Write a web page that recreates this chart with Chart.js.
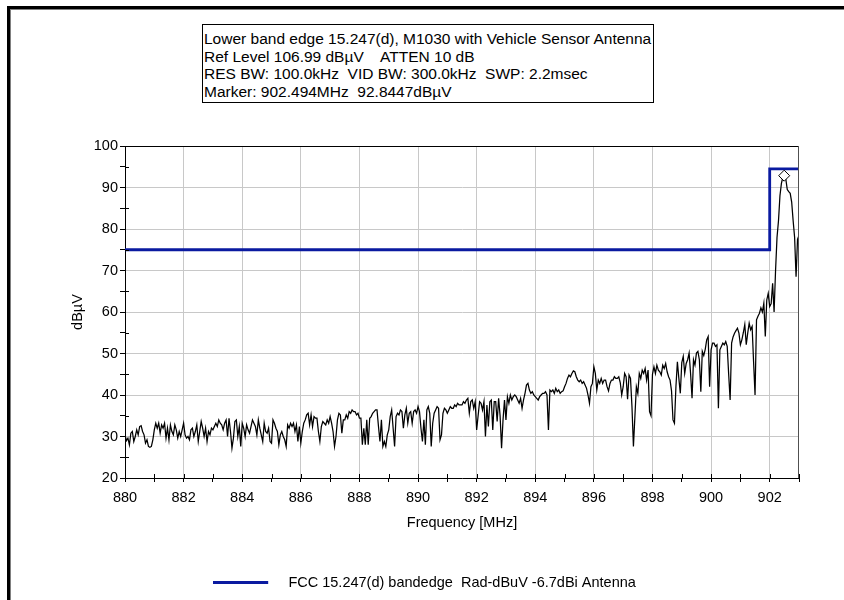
<!DOCTYPE html>
<html>
<head>
<meta charset="utf-8">
<script src="https://cdn.jsdelivr.net/npm/chart.js@4.4.1/dist/chart.umd.min.js"></script>
<style>
html,body{margin:0;padding:0;background:#fff;}
#wrap{position:relative;width:844px;height:600px;overflow:hidden;background:#fff;}
#frame{position:absolute;left:7px;top:6px;width:900px;height:700px;border-left:3px solid #000;border-top:3px solid #000;box-shadow:inset 1px 1px 0 #808080;}
#chart{position:absolute;left:0;top:0;}
#info{position:absolute;left:202px;top:24px;width:452px;height:79px;box-sizing:border-box;border:1px solid #000;background:#fff;color:#000;
  font:15.5px "Liberation Sans",Arial,sans-serif;line-height:17.5px;white-space:pre;padding:5px 0 0 1px;}
</style>
</head>
<body>
<div id="wrap">
  <div id="frame"></div>
  <canvas id="chart" width="844" height="600"></canvas>
  <div id="info">Lower band edge 15.247(d), M1030 with Vehicle Sensor Antenna
Ref Level 106.99 dBµV    ATTEN 10 dB
RES BW: 100.0kHz  VID BW: 300.0kHz  SWP: 2.2msec
Marker: 902.494MHz  92.8447dBµV</div>
</div>
<script>
// ---- data ----
const freqStartMHz = 880;
const freqStepMHz = 0.05;
const traceLevels = [
  30.4, 29.0, 29.6, 28.0, 30.8, 31.2, 28.8, 30.0, 31.6, 30.4, 32.4, 32.6, 31.2, 30.4, 28.4, 29.2, 27.6, 27.4, 27.6, 29.2,
  31.6, 33.2, 32.0, 33.2, 30.8, 32.8, 32.0, 33.2, 29.6, 32.0, 29.2, 32.8, 31.2, 30.4, 32.8, 31.6, 29.6, 31.2, 30.0, 31.6,
  33.2, 30.4, 29.6, 30.0, 29.2, 31.6, 32.0, 30.0, 31.2, 32.8, 28.8, 31.2, 33.6, 32.0, 30.0, 32.0, 28.8, 31.2, 30.4, 32.0,
  31.6, 32.4, 33.2, 32.4, 34.0, 33.2, 32.8, 31.6, 33.2, 34.0, 30.0, 34.4, 31.2, 27.2, 29.6, 33.6, 34.0, 30.0, 32.4, 27.6,
  33.2, 32.0, 30.0, 32.8, 31.6, 30.8, 32.4, 34.0, 33.2, 32.4, 30.4, 34.0, 32.0, 30.4, 28.8, 33.2, 31.2, 30.8, 32.0, 28.8,
  28.4, 34.0, 33.2, 32.0, 31.2, 28.0, 30.4, 31.2, 30.0, 29.2, 27.6, 32.8, 32.0, 33.2, 32.4, 33.2, 31.2, 32.8, 28.8, 32.4,
  28.4, 31.2, 33.2, 34.0, 35.2, 35.6, 32.8, 35.2, 32.4, 34.8, 34.4, 34.4, 31.2, 28.8, 32.4, 33.6, 33.2, 32.8, 34.0, 33.2,
  34.8, 33.2, 31.2, 27.6, 30.0, 34.0, 35.6, 35.2, 30.8, 34.0, 34.0, 35.2, 34.4, 36.0, 35.6, 36.4, 36.0, 36.0, 35.2, 35.6,
  34.4, 34.4, 28.0, 32.0, 28.0, 34.0, 28.0, 34.4, 34.8, 35.6, 36.0, 36.4, 36.4, 32.4, 28.8, 34.0, 27.6, 28.8, 27.6, 30.4,
  31.6, 34.8, 36.4, 32.0, 27.6, 34.8, 35.6, 35.2, 36.4, 36.0, 32.0, 35.2, 36.8, 33.2, 35.6, 36.0, 33.2, 36.0, 36.4, 35.6,
  37.2, 36.0, 32.0, 28.8, 34.0, 28.0, 36.4, 37.2, 35.6, 27.6, 33.2, 35.6, 36.4, 37.2, 36.8, 29.2, 30.4, 35.6, 36.8, 36.4,
  35.6, 36.4, 37.2, 36.8, 36.8, 37.6, 37.2, 38.0, 37.6, 37.6, 37.6, 38.4, 38.0, 38.8, 39.2, 35.6, 38.4, 38.8, 36.8, 38.4,
  31.6, 35.0, 38.4, 38.0, 36.4, 38.4, 30.0, 37.6, 32.4, 38.4, 38.8, 31.6, 38.4, 38.4, 33.6, 39.2, 35.0, 27.2, 34.0, 38.8,
  34.0, 39.6, 38.0, 40.0, 38.8, 39.6, 40.0, 39.6, 38.8, 38.0, 39.2, 36.8, 38.8, 40.4, 42.4, 42.8, 41.2, 40.4, 40.8, 40.0,
  39.6, 39.2, 38.8, 39.6, 40.0, 40.4, 40.4, 40.8, 40.0, 31.6, 41.2, 40.8, 41.2, 40.4, 41.6, 40.8, 41.2, 40.4, 40.8, 41.0,
  42.0, 42.8, 44.0, 44.8, 44.4, 45.2, 45.8, 45.6, 44.4, 43.6, 43.2, 43.6, 42.8, 43.2, 42.4, 41.6, 40.0, 38.0, 42.0, 42.8,
  46.8, 45.2, 41.2, 43.6, 42.8, 44.0, 42.8, 43.6, 43.6, 42.0, 41.0, 42.8, 43.6, 43.6, 44.4, 44.0, 44.0, 44.4, 43.0, 40.0,
  42.0, 45.2, 44.4, 39.0, 44.8, 44.0, 37.2, 27.6, 34.8, 42.0, 40.4, 45.2, 44.0, 46.0, 45.2, 46.4, 43.6, 46.0, 36.0, 35.0,
  45.0, 46.8, 45.2, 47.2, 46.0, 45.6, 44.8, 47.2, 46.4, 47.6, 45.6, 44.4, 43.6, 41.0, 34.0, 33.2, 42.0, 48.0, 44.0, 40.4,
  47.8, 49.3, 45.2, 47.6, 48.5, 50.1, 45.2, 39.2, 48.5, 47.2, 50.1, 50.5, 48.5, 40.8, 50.5, 49.5, 51.0, 53.3, 54.1, 42.0,
  50.9, 52.5, 52.5, 51.7, 52.1, 36.8, 50.9, 51.7, 52.5, 52.1, 52.9, 51.7, 45.0, 38.8, 52.5, 54.0, 54.9, 55.5, 56.1, 54.9,
  52.1, 53.3, 55.0, 57.0, 52.1, 54.9, 57.3, 55.7, 56.5, 48.0, 40.0, 58.1, 59.0, 59.7, 61.0, 60.0, 62.1, 54.1, 62.9, 64.5,
  61.3, 62.0, 66.9, 60.0, 70.0, 78.0, 82.0, 88.0, 91.0, 92.5, 92.8, 92.0, 89.5, 89.0, 88.6, 86.5, 82.0, 78.0, 68.5, 77.5,
  78.5
];
const limitFreqMHz = [880, 902, 902, 903];
const limitLevels = [75, 75, 94.5, 94.5];
const markerFreqMHz = [902.494];
const markerLevels = [92.8447];
const limitLabel = 'FCC 15.247(d) bandedge  Rad-dBuV -6.7dBi Antenna';
const xMin = 880, xMax = 903, yMin = 20, yMax = 100;

// ---- styles ----
const limitColor = '#0a1aa0';
const gridColor = '#c8c8c8';
const FONT = '"Liberation Sans", Arial, sans-serif';
Chart.defaults.font.family = FONT;
Chart.defaults.font.size = 14.5;
Chart.defaults.color = '#000';

const traceData = traceLevels.map((v, i) => ({ x: +(freqStartMHz + i * freqStepMHz).toFixed(2), y: v }));
const limitData = limitFreqMHz.map((f, i) => ({ x: f, y: limitLevels[i] }));
const markerData = markerFreqMHz.map((f, i) => ({ x: f, y: markerLevels[i] }));

// legend swatch: a line followed by a gap
const legendLine = document.createElement('canvas');
legendLine.width = 68; legendLine.height = 3;
const lctx = legendLine.getContext('2d');
lctx.fillStyle = limitColor;
lctx.fillRect(0, 0, 55, 3);

const plotDecor = {
  id: 'plotDecor',
  afterDatasetsDraw(chart) {
    const { ctx, chartArea: a, scales: { x, y } } = chart;
    ctx.save();
    ctx.lineWidth = 1;
    ctx.strokeStyle = '#000';
    ctx.beginPath();
    x.ticks.forEach(t => {
      const px = Math.round(x.getPixelForValue(t.value)) + 0.5;
      ctx.moveTo(px, a.bottom); ctx.lineTo(px, a.bottom - 4);
    });
    y.ticks.forEach(t => {
      if (t.value % 10 !== 0) {
        const py = Math.round(y.getPixelForValue(t.value)) + 0.5;
        ctx.moveTo(a.left, py); ctx.lineTo(a.left + 4, py);
      }
    });
    ctx.stroke();
    ctx.beginPath();
    ctx.moveTo(a.left, Math.round(a.top) + 0.5); ctx.lineTo(a.right, Math.round(a.top) + 0.5);
    ctx.stroke();
    ctx.beginPath();
    ctx.strokeStyle = '#505050';
    ctx.moveTo(Math.round(a.right) - 0.5, a.top); ctx.lineTo(Math.round(a.right) - 0.5, a.bottom);
    ctx.stroke();
    ctx.restore();
  }
};

new Chart(document.getElementById('chart'), {
  type: 'line',
  data: {
    datasets: [
      { label: 'Marker', data: markerData, showLine: false, pointStyle: 'rectRot', pointRadius: 5.5,
        pointBackgroundColor: '#fff', pointBorderColor: '#000', pointBorderWidth: 1, order: 0 },
      { label: limitLabel, data: limitData, borderColor: limitColor, backgroundColor: limitColor,
        borderWidth: 2.8, pointRadius: 0, order: 2 },
      { label: 'Trace', data: traceData, borderColor: '#000', borderWidth: 1.25, pointRadius: 0, tension: 0, order: 1 }
    ]
  },
  options: {
    responsive: false,
    animation: false,
    layout: { padding: { left: 50, right: 45, top: 146, bottom: 0 } },
    scales: {
      x: {
        type: 'linear', min: xMin, max: xMax,
        afterFit(s) { s.height = 87.5; },
        ticks: { stepSize: 1, autoSkip: false, maxRotation: 0, padding: 7,
                 callback: v => (v % 2 === 0 ? String(v) : '') },
        grid: { color: c => (c.tick && c.tick.value % 2 === 0 ? gridColor : 'rgba(0,0,0,0)'),
                tickColor: '#000', tickLength: 4 },
        border: { color: '#000', width: 1 },
        title: { display: true, text: 'Frequency [MHz]', padding: { top: 0, bottom: 34 } }
      },
      y: {
        min: yMin, max: yMax,
        afterFit(s) { s.width = 75; },
        ticks: { stepSize: 5, autoSkip: false, padding: 2,
                 callback: v => (v % 10 === 0 ? String(v) : '') },
        grid: { color: c => (c.tick && c.tick.value % 10 === 0 ? gridColor : 'rgba(0,0,0,0)'),
                tickColor: '#000', tickLength: 5 },
        border: { color: '#000', width: 1 },
        title: { display: true, text: 'dBµV', padding: { top: 19, bottom: 0 } }
      }
    },
    plugins: {
      tooltip: { enabled: false },
      legend: {
        position: 'bottom',
        labels: {
          filter: item => item.text === limitLabel,
          usePointStyle: true, pointStyle: legendLine, pointStyleWidth: 68,
          padding: 10, color: '#000', font: { size: 14.5 }
        }
      }
    }
  },
  plugins: [plotDecor]
});
</script>
</body>
</html>
